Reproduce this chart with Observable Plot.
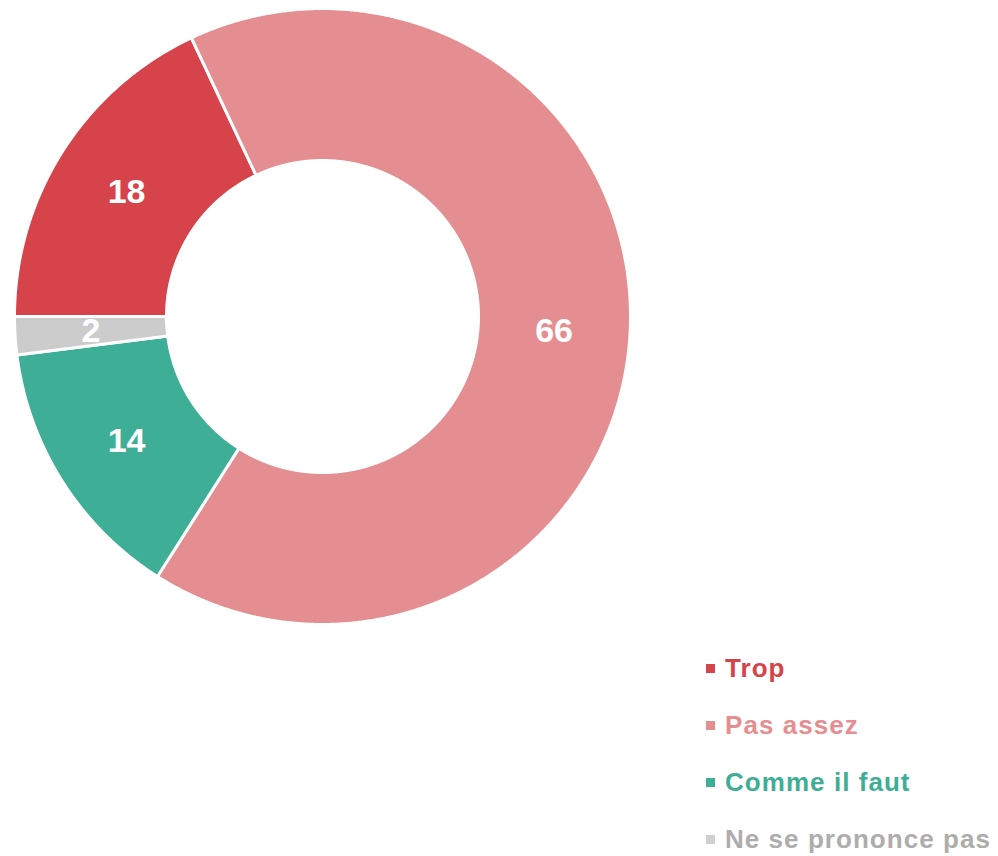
<!DOCTYPE html>
<html><head><meta charset="utf-8">
<script src="https://cdn.jsdelivr.net/npm/d3@7"></script>
<script src="https://cdn.jsdelivr.net/npm/@observablehq/plot@0.6"></script>
<style>
body{margin:0;background:#fff;font-family:"Liberation Sans",Arial,sans-serif;}
#wrap{position:relative;width:998px;height:856px;}
#legend{position:absolute;left:706px;top:640px;}
.row{height:57px;display:flex;align-items:center;font-weight:bold;font-size:26px;letter-spacing:1.05px;}
.sw{width:9px;height:9px;margin-right:10px;}
</style></head><body>
<div id="wrap"><div id="chart"></div><div id="legend"></div></div>
<script>
const categories = ["Trop", "Pas assez", "Comme il faut", "Ne se prononce pas"];
const values = [18, 66, 14, 2];
const colors = ["#D6434A", "#E58E92", "#3EAE96", "#CCCCCC"];
const legendColors = ["#D6434A", "#E58E92", "#3EAE96", "#AFACAC"];
const swatchColors = ["#D6434A", "#E58E92", "#3EAE96", "#CFCFCF"];

const R_OUT = 308, R_IN = 156;
const pie = d3.pie().sort(null).value(d => d.value).startAngle(-Math.PI / 2).endAngle(1.5 * Math.PI);
const arcs = pie(categories.map((c, i) => ({cat: c, value: values[i]})));

// polygon points for each slice (angle clockwise from top; y up)
const pts = [];
for (const a of arcs) {
  const n = Math.max(4, Math.ceil((a.endAngle - a.startAngle) / 0.005));
  const ring = [];
  for (let k = 0; k <= n; k++) {
    const t = a.startAngle + (a.endAngle - a.startAngle) * k / n;
    ring.push([R_OUT * Math.sin(t), R_OUT * Math.cos(t)]);
  }
  for (let k = n; k >= 0; k--) {
    const t = a.startAngle + (a.endAngle - a.startAngle) * k / n;
    ring.push([R_IN * Math.sin(t), R_IN * Math.cos(t)]);
  }
  ring.push(ring[0]);
  for (const [x, y] of ring) pts.push({cat: a.data.cat, x, y});
}
const labels = arcs.map(a => {
  const m = (a.startAngle + a.endAngle) / 2, r = (R_OUT + R_IN) / 2;
  return {cat: a.data.cat, value: a.data.value, x: r * Math.sin(m), y: r * Math.cos(m)};
});

const chart = Plot.plot({
  width: 998, height: 640,
  marginLeft: 0, marginRight: 0, marginTop: 0, marginBottom: 0,
  x: {domain: [-322, 676], axis: null},
  y: {domain: [-324, 316], axis: null},
  color: {domain: categories, range: colors},
  marks: [
    Plot.line(pts, {x: "x", y: "y", z: "cat", fill: "cat", stroke: "white", strokeWidth: 3, curve: "linear"}),
    Plot.text(labels, {x: "x", y: "y", text: d => String(d.value), fill: "white", fontSize: 34, fontWeight: "bold", fontFamily: "Liberation Sans, Arial, sans-serif"})
  ]
});
document.getElementById("chart").append(chart);

const leg = document.getElementById("legend");
categories.forEach((c, i) => {
  const row = document.createElement("div");
  row.className = "row";
  row.style.color = legendColors[i];
  const sw = document.createElement("span");
  sw.className = "sw";
  sw.style.background = swatchColors[i];
  row.append(sw, document.createTextNode(c));
  leg.append(row);
});
</script>
</body></html>
